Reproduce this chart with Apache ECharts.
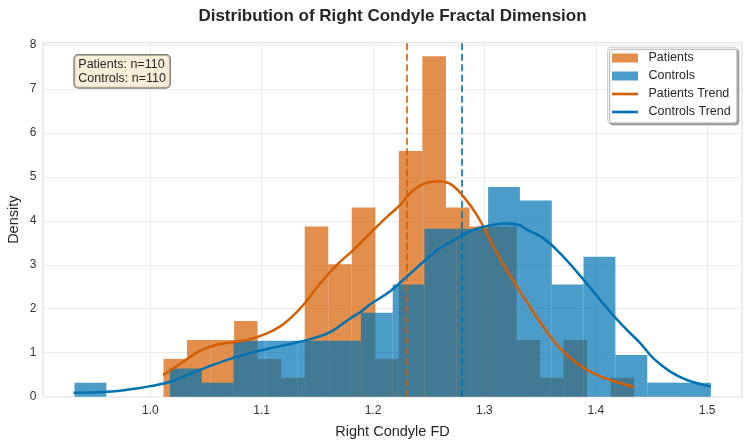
<!DOCTYPE html>
<html>
<head>
<meta charset="utf-8">
<script src="https://cdn.jsdelivr.net/npm/echarts@6/dist/echarts.min.js"></script>
<style>
html,body{margin:0;padding:0;background:#fff;}
#chart{width:750px;height:445px;}
</style>
</head>
<body>
<div id="chart"></div>
<script>
// ---- data ----
const titleText = 'Distribution of Right Condyle Fractal Dimension';
const xAxisTitle = 'Right Condyle FD';
const yAxisTitle = 'Density';
const seriesNames = ['Patients', 'Controls', 'Patients Trend', 'Controls Trend'];
const annotationLines = ['Patients: n=110', 'Controls: n=110'];

const patientEdges = [1.0119, 1.0330, 1.0542, 1.0753, 1.0964, 1.1176, 1.1387, 1.1598, 1.1809, 1.2021,
  1.2232, 1.2443, 1.2655, 1.2866, 1.3077, 1.3289, 1.3500, 1.3711, 1.3922, 1.4134, 1.4345];
const patientDensity = [0.86, 1.29, 1.29, 1.72, 0.86, 0.43, 3.87, 3.01, 4.30, 0.86,
  5.59, 7.74, 4.30, 3.87, 3.87, 1.29, 0.43, 1.29, 0, 0.43];

const controlEdges = [0.9320, 0.9606, 0.9891, 1.0177, 1.0463, 1.0748, 1.1034, 1.1320, 1.1605, 1.1891,
  1.2177, 1.2462, 1.2748, 1.3033, 1.3319, 1.3605, 1.3890, 1.4176, 1.4462, 1.4747, 1.5033];
const controlDensity = [0.32, 0, 0, 0.64, 0.32, 1.27, 1.27, 1.27, 1.27, 1.91,
  2.55, 3.82, 3.82, 4.77, 4.46, 2.55, 3.18, 0.95, 0.32, 0.32];

const patientKdeX = [1.0114, 1.0299, 1.0449, 1.0599, 1.0748, 1.0898, 1.1048, 1.1167, 1.1257, 1.1376,
  1.1526, 1.1676, 1.1825, 1.1975, 1.2125, 1.2244, 1.2334, 1.2453, 1.2576, 1.2693, 1.2812, 1.2933,
  1.3052, 1.3171, 1.3232, 1.3306, 1.3382, 1.3531, 1.3680, 1.3830, 1.3979, 1.4129, 1.4345];
const patientKdeY = [0.49, 0.80, 1.05, 1.18, 1.24, 1.31, 1.44, 1.60, 1.78, 2.09,
  2.58, 3.00, 3.34, 3.72, 4.09, 4.36, 4.63, 4.84, 4.90, 4.84, 4.55, 4.13,
  3.56, 3.00, 2.75, 2.45, 2.15, 1.58, 1.10, 0.76, 0.53, 0.38, 0.22];

const controlKdeX = [0.9311, 0.9611, 0.9910, 1.0000, 1.0180, 1.0359, 1.0539, 1.0718, 1.0898, 1.1077,
  1.1257, 1.1436, 1.1616, 1.1795, 1.1885, 1.1975, 1.2154, 1.2304, 1.2453, 1.2603, 1.2753, 1.2902,
  1.3052, 1.3171, 1.3303, 1.3382, 1.3531, 1.3680, 1.3830, 1.3979, 1.4129, 1.4279, 1.4399, 1.4518,
  1.4668, 1.4818, 1.5033];
const controlKdeY = [0.09, 0.11, 0.20, 0.24, 0.34, 0.52, 0.70, 0.86, 0.99, 1.10,
  1.20, 1.31, 1.47, 1.78, 1.92, 2.10, 2.40, 2.73, 3.07, 3.38, 3.60, 3.79,
  3.90, 3.94, 3.91, 3.80, 3.60, 3.26, 2.84, 2.39, 1.93, 1.52, 1.22, 0.87,
  0.57, 0.38, 0.23];

const patientMean = 1.2253;
const controlMean = 1.2789;

const xRange = [0.904, 1.531];
const yRange = [0, 8.05];
// ---------------------------------------

const FONT = '"Liberation Sans", Arial, sans-serif';
const TEXT = '#262626';
const patientBarColor = 'rgba(213,94,0,0.7)';
const controlBarColor = 'rgba(0,114,178,0.7)';
const patientLineColor = '#d55e00';
const controlLineColor = '#0072b2';
const lineIcon = 'path://M0,0L100,0L100,10L0,10Z';

function histData(edges, dens) {
  return dens.map((d, i) => [edges[i], edges[i + 1], d]);
}
function pairs(xs, ys) { return xs.map((x, i) => [x, ys[i]]); }

function makeRender(color) {
  return function (params, api) {
    const x0 = api.value(0), x1 = api.value(1), h = api.value(2);
    const p0 = api.coord([x0, 0]);
    const p1 = api.coord([x1, h]);
    return {
      type: 'rect',
      shape: { x: p0[0], y: p1[1], width: p1[0] - p0[0], height: p0[1] - p1[1] },
      style: { fill: color }
    };
  };
}

const chart = echarts.init(document.getElementById('chart'), null, { renderer: 'canvas' });
const option = {
  animation: false,
  backgroundColor: '#ffffff',
  textStyle: { fontFamily: FONT },
  grid: {
    left: 43.3, right: 8.3, top: 42.7, bottom: 48.3,
    containLabel: false, outerBoundsMode: 'none',
    show: true, borderColor: '#cccccc', borderWidth: 1.25, backgroundColor: 'transparent'
  },
  xAxis: {
    type: 'value', min: xRange[0], max: xRange[1], splitNumber: 6,
    axisLine: { show: false }, axisTick: { show: false },
    splitLine: { show: true, lineStyle: { color: '#ebebeb', width: 1 } },
    axisLabel: {
      margin: 8, fontSize: 12, color: '#333333', fontFamily: FONT,
      formatter: v => (Math.abs(v * 10 - Math.round(v * 10)) < 1e-6 ? v.toFixed(1) : '')
    },
    name: xAxisTitle, nameLocation: 'middle', nameGap: 28, nameMoveOverlap: false,
    nameTextStyle: { fontSize: 14.5, color: TEXT, fontFamily: FONT }
  },
  yAxis: {
    type: 'value', min: yRange[0], max: yRange[1], interval: 1,
    axisLine: { show: false }, axisTick: { show: false },
    splitLine: { show: true, lineStyle: { color: '#ebebeb', width: 1 } },
    axisLabel: {
      margin: 7, fontSize: 12, color: '#333333', fontFamily: FONT,
      formatter: v => (Math.abs(v - Math.round(v)) < 1e-6 ? String(Math.round(v)) : '')
    },
    name: yAxisTitle, nameLocation: 'middle', nameGap: 22, nameMoveOverlap: false,
    nameTextStyle: { fontSize: 14.5, color: TEXT, fontFamily: FONT }
  },
  legend: {
    orient: 'vertical', right: 13.3, top: 47.3,
    padding: [3.7, 6, 3.7, 4.4],
    itemWidth: 26, itemHeight: 9, itemGap: 4,
    symbolKeepAspect: true,
    backgroundColor: '#ffffff', borderColor: '#cccccc', borderWidth: 1, borderRadius: 3,
    shadowColor: 'rgba(0,0,0,0.35)', shadowBlur: 1, shadowOffsetX: 2, shadowOffsetY: 2,
    textStyle: { fontSize: 12.5, color: TEXT, fontFamily: FONT, lineHeight: 14, padding: [0, 0, 0, 5.5] },
    data: [
      { name: seriesNames[0], icon: 'rect' },
      { name: seriesNames[1], icon: 'rect' },
      { name: seriesNames[2], icon: lineIcon, itemStyle: { color: patientLineColor } },
      { name: seriesNames[3], icon: lineIcon, itemStyle: { color: controlLineColor } }
    ]
  },
  graphic: [
    {
      type: 'text', x: 392.5, y: 16, silent: true,
      style: {
        text: titleText, fill: TEXT, align: 'center', verticalAlign: 'middle',
        font: 'bold 17px ' + FONT
      }
    },
    {
      type: 'text', x: 74.3, y: 55, silent: true, z: 100,
      style: {
        text: annotationLines.join('\n'), fill: TEXT, align: 'left', verticalAlign: 'top',
        font: '12.5px ' + FONT, lineHeight: 13.4,
        backgroundColor: 'rgba(245,222,179,0.5)', borderColor: 'rgba(0,0,0,0.5)', borderWidth: 1,
        borderRadius: 4, padding: [3, 4, 3, 4]
      }
    }
  ],
  series: [
    {
      name: seriesNames[0], type: 'custom', coordinateSystem: 'cartesian2d',
      itemStyle: { color: patientBarColor },
      encode: { x: [0, 1], y: 2 }, z: 2,
      renderItem: makeRender(patientBarColor),
      data: histData(patientEdges, patientDensity)
    },
    {
      name: seriesNames[1], type: 'custom', coordinateSystem: 'cartesian2d',
      itemStyle: { color: controlBarColor },
      encode: { x: [0, 1], y: 2 }, z: 3,
      renderItem: makeRender(controlBarColor),
      data: histData(controlEdges, controlDensity)
    },
    {
      name: seriesNames[2], type: 'line', symbol: 'none', smooth: 0.4, z: 5,
      lineStyle: { color: patientLineColor, width: 2.5 },
      itemStyle: { color: patientLineColor },
      data: pairs(patientKdeX, patientKdeY),
      markLine: {
        silent: true, symbol: ['none', 'none'], label: { show: false },
        lineStyle: { color: 'rgba(213,94,0,0.8)', width: 2, type: [7, 3.5] },
        data: [{ xAxis: patientMean }]
      }
    },
    {
      name: seriesNames[3], type: 'line', symbol: 'none', smooth: 0.4, z: 5,
      lineStyle: { color: controlLineColor, width: 2.5 },
      itemStyle: { color: controlLineColor },
      data: pairs(controlKdeX, controlKdeY),
      markLine: {
        silent: true, symbol: ['none', 'none'], label: { show: false },
        lineStyle: { color: 'rgba(0,114,178,0.8)', width: 2, type: [7, 3.5] },
        data: [{ xAxis: controlMean }]
      }
    }
  ]
};
chart.setOption(option);
</script>
</body>
</html>
